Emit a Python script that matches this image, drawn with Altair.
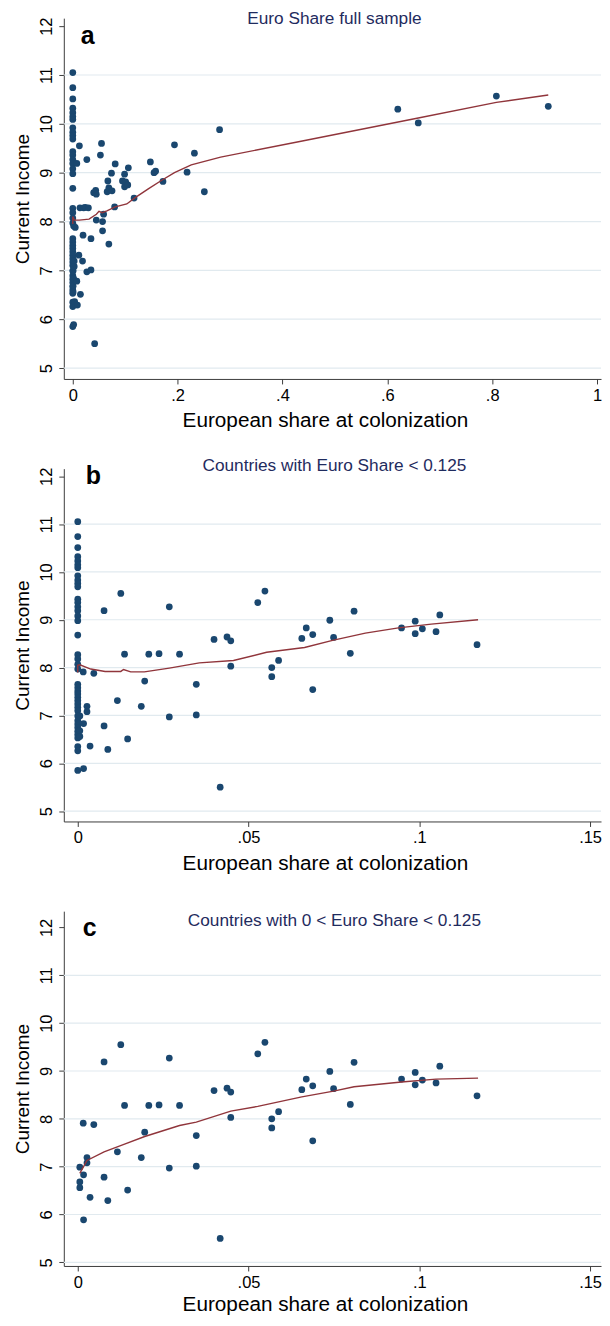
import altair as alt
import pandas as pd

# ---------------- data ----------------
# countries with European share == 0
zero_income = [11.05, 10.74, 10.51, 10.32, 10.23, 10.15, 10.09, 9.92, 9.83, 9.76,
               9.69, 9.43, 9.36, 9.27, 9.19, 9.08, 8.98, 8.68, 8.27, 8.18,
               8.07, 7.97, 7.65, 7.58, 7.51, 7.45, 7.38, 7.31, 7.24, 7.17,
               7.10, 6.99, 6.89, 6.82, 6.75, 6.67, 6.60, 6.53, 6.35, 6.26, 5.85]

# countries with 0 < share < 0.125
pos_share = [0.0006, 0.0006, 0.0006, 0.0016, 0.0017, 0.0017, 0.0027, 0.0027, 0.0036, 0.0047,
             0.0077, 0.0077, 0.0088, 0.0116, 0.0126, 0.0137, 0.0146, 0.0186, 0.0196, 0.0208,
             0.0238, 0.0268, 0.0268, 0.0298, 0.0347, 0.0347, 0.0399, 0.0417, 0.0437, 0.0448,
             0.0448, 0.0527, 0.0548, 0.0568, 0.0568, 0.0588, 0.0656, 0.0669, 0.0688, 0.0688,
             0.0738, 0.0749, 0.0798, 0.0809, 0.0948, 0.0988, 0.0988, 0.1009, 0.1049, 0.1060,
             0.1169]
pos_income = [6.99, 6.68, 6.56, 7.91, 6.83, 5.89, 7.19, 7.08, 6.36, 7.88,
              9.19, 6.78, 6.29, 7.31, 9.55, 8.28, 6.51, 7.19, 7.72, 8.28,
              8.29, 9.27, 6.97, 8.28, 7.65, 7.01, 8.59, 5.50, 8.64, 8.56,
              8.03, 9.36, 9.60, 8.00, 7.81, 8.15, 8.61, 8.83, 8.69, 7.54,
              8.99, 8.63, 8.30, 9.18, 8.83, 8.97, 8.71, 8.81, 8.75, 9.10,
              8.48]

# countries with share >= 0.125
high_share = [0.148, 0.155, 0.158, 0.172, 0.194, 0.218, 0.232, 0.251, 0.280,
              0.620, 0.659, 0.808, 0.907]
high_income = [9.22, 9.00, 9.03, 8.82, 9.57, 9.01, 9.40, 8.61, 9.88,
               10.30, 10.02, 10.57, 10.36]

# lowess curves as drawn
low_a_x = [0, 0, 0.003, 0.0125, 0.031, 0.045, 0.050, 0.056, 0.065, 0.081, 0.103,
           0.119, 0.144, 0.169, 0.194, 0.226, 0.282, 0.433, 0.659, 0.808, 0.907]
low_a_y = [7.95, 8.10, 8.03, 8.03, 8.05, 8.15, 8.21, 8.18, 8.22, 8.30, 8.36,
           8.49, 8.67, 8.84, 9.00, 9.16, 9.32, 9.64, 10.12, 10.44, 10.59]

low_b_x = [0, 0, 0.0006, 0.0038, 0.008, 0.0126, 0.0134, 0.0155, 0.0195, 0.0268,
           0.0356, 0.0456, 0.0553, 0.0664, 0.0746, 0.0842, 0.0939, 0.1035, 0.1172]
low_b_y = [7.90, 8.05, 8.06, 7.97, 7.92, 7.92, 7.96, 7.91, 7.91, 7.99,
           8.10, 8.15, 8.32, 8.42, 8.57, 8.72, 8.83, 8.91, 9.00]

low_c_x = [0.0006, 0.0027, 0.0077, 0.0137, 0.0196, 0.0298, 0.0347, 0.0448, 0.0527,
           0.0656, 0.0749, 0.0809, 0.0948, 0.1049, 0.1172]
low_c_y = [6.86, 7.13, 7.31, 7.47, 7.63, 7.86, 7.93, 8.16, 8.26,
           8.46, 8.58, 8.67, 8.77, 8.83, 8.85]

y_ticks = [5, 6, 7, 8, 9, 10, 11, 12]
grid_vals = [5, 6, 7, 8, 9, 10, 11]
x_ticks_a = [0, 0.2, 0.4, 0.6, 0.8, 1]
x_ticks_bc = [0, 0.05, 0.1, 0.15]

titles = ["Euro Share full sample",
          "Countries with Euro Share < 0.125",
          "Countries with 0 < Euro Share < 0.125"]
letters = ["a", "b", "c"]
x_title = "European share at colonization"
y_title = "Current Income"

# ---------------- styling ----------------
FONT = "Liberation Sans"
NAVY = "#1a476f"
MAROON = "#90353b"
TITLE_COL = "#1f2b5e"
AXIS_COL = "#3c3c3c"
GRID_COL = "#e1eaef"
W = 539

x_label_expr = ("datum.value == 0 ? '0' : (datum.value >= 1 ? toString(datum.value) "
                ": replace(toString(datum.value), '0.', '.'))")


def panel(px, py, lx, ly, xdom, ydom, xticks, h, title, letter,
          title_dy, letter_dx, letter_dy, lab_pad, title_pad):
    pts = pd.DataFrame({"share": px, "income": py})
    ln = pd.DataFrame({"share": lx, "income": ly, "i": list(range(len(lx)))})
    grid = pd.DataFrame({"income": grid_vals})

    xs = alt.Scale(domain=xdom, nice=False, zero=False)
    ys = alt.Scale(domain=ydom, nice=False, zero=False)
    xaxis = alt.Axis(values=xticks, labelExpr=x_label_expr, title=x_title, grid=False,
                     labelFontSize=16.5, titleFontSize=20.8, labelFont=FONT, titleFont=FONT,
                     labelColor="#000", titleColor="#000", titleFontWeight="normal",
                     tickSize=5, labelPadding=lab_pad, titlePadding=title_pad, titleX=262,
                     domainColor=AXIS_COL, tickColor=AXIS_COL, labelFlush=False)
    yaxis = alt.Axis(values=y_ticks, format="d", title=y_title, grid=False,
                     labelAngle=270, labelFontSize=16.5, titleFontSize=19,
                     labelFont=FONT, titleFont=FONT, labelColor="#000", titleColor="#000",
                     titleFontWeight="normal", tickSize=5, labelPadding=4, titlePadding=6,
                     domainColor=AXIS_COL, tickColor=AXIS_COL, labelFlush=False)

    X = alt.X("share:Q", scale=xs, axis=xaxis)
    Y = alt.Y("income:Q", scale=ys, axis=yaxis)

    g = alt.Chart(grid).mark_rule(color=GRID_COL, strokeWidth=1.2).encode(y=Y)
    d = alt.Chart(pts).mark_circle(size=46, color=NAVY, opacity=1).encode(x=X, y=Y)
    l = alt.Chart(ln).mark_line(color=MAROON, strokeWidth=1.4).encode(
        x=X, y=Y, order=alt.Order("i:Q"))
    t = alt.Chart(pd.DataFrame({"t": [title]})).mark_text(
        font=FONT, fontSize=17.3, color=TITLE_COL, align="center", baseline="middle"
    ).encode(text="t:N", x=alt.value(W / 2 + 2), y=alt.value(title_dy))
    k = alt.Chart(pd.DataFrame({"t": [letter]})).mark_text(
        font=FONT, fontSize=25, fontWeight="bold", color="#000", align="left",
        baseline="alphabetic"
    ).encode(text="t:N", x=alt.value(letter_dx), y=alt.value(letter_dy))
    return alt.layer(g, d, l, t, k).properties(width=W, height=h)


all_x = [0.0] * len(zero_income) + pos_share + high_share
all_y = zero_income + pos_income + high_income
b_x = [0.0] * len(zero_income) + pos_share
b_y = zero_income + pos_income

pa = panel(all_x, all_y, low_a_x, low_a_y, [-0.01711, 1.0076], [4.777, 12.164],
           x_ticks_a, 362, titles[0], letters[0], 1, 17, 26, 3.5, 7)
pb = panel(b_x, b_y, low_b_x, low_b_y, [-0.004085, 0.1532], [4.784, 12.159],
           x_ticks_bc, 354, titles[1], letters[1], -2.6, 22, 15.4, 3.5, 7)
pc = panel(pos_share, pos_income, low_c_x, low_c_y, [-0.004085, 0.1532], [4.924, 12.341],
           x_ticks_bc, 356, titles[2], letters[2], 10, 19, 25.4, 3.5, 4)

chart = alt.vconcat(pa, pb, pc, spacing=90, bounds="flush").properties(
    padding={"left": 5, "top": 0, "right": 0, "bottom": 0},
    background="white",
).configure_view(stroke=None)

chart.save("out.html", embed_options={"renderer": "svg", "actions": False})
